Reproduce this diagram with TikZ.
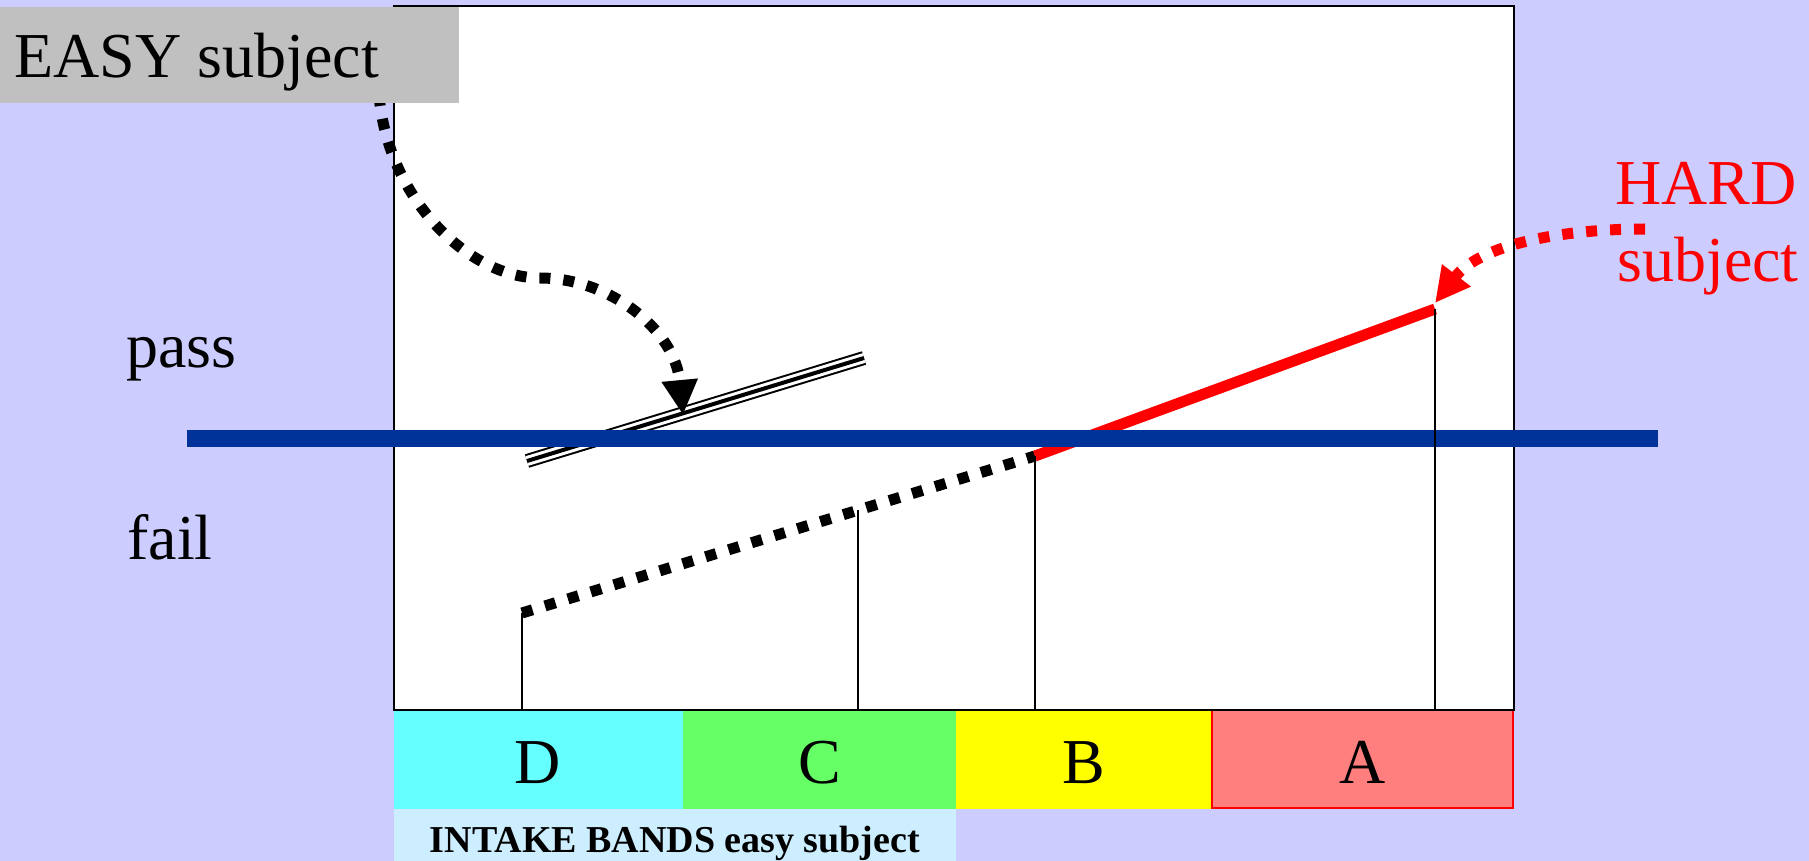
\documentclass[tikz,border=0pt]{standalone}
\usepackage{fontspec}
\setmainfont{Liberation Serif}
\usetikzlibrary{arrows.meta}

\definecolor{lavender}{HTML}{CCCCFF}
\definecolor{easygrey}{HTML}{C0C0C0}
\definecolor{passblue}{HTML}{003399}
\definecolor{bandD}{HTML}{66FFFF}
\definecolor{bandC}{HTML}{66FF66}
\definecolor{bandB}{HTML}{FFFF00}
\definecolor{bandA}{HTML}{FF7F7F}
\definecolor{intake}{HTML}{CCEEFF}

\begin{document}
\begin{tikzpicture}[x=0.5pt, y=-0.5pt,
	bigtext/.style={font=\fontsize{32}{38}\selectfont, inner sep=0pt},
	dotpath/.style={line width=5.5pt, dash pattern=on 5.5pt off 6.5pt},
	head/.style={-{Triangle[length=17.5pt, width=17pt]}},
	stem/.style={line width=1pt},
	triple/.style={line width=2pt, preaction={draw, line width=7pt},
		preaction={draw, white, line width=5pt}}]
	\fill [lavender] (0, 0) rectangle (1809, 861);
	\useasboundingbox (0, 0) rectangle (1809, 861);
	% intake bands
	\fill [bandD] (394, 710) rectangle (683, 809);
	\fill [bandC] (683, 710) rectangle (956, 809);
	\fill [bandB] (956, 710) rectangle (1212, 809);
	\draw [red, line width=1pt, fill=bandA] (1212, 710) rectangle (1513, 808);
	\fill [intake] (394, 809) rectangle (956, 861);
	\draw [line width=1pt, fill=white] (394, 6) rectangle (1514, 710);
	\node [bigtext, anchor=base] (gradeD) at (538, 783) {D};
	\node [bigtext, anchor=base] (gradeC) at (820, 783) {C};
	\node [bigtext, anchor=base] (gradeB) at (1084, 783) {B};
	\node [bigtext, anchor=base] (gradeA) at (1363, 783) {A};
	\node [font=\bfseries\fontsize{19}{23}\selectfont, inner sep=0pt, anchor=base] (intakelabel) at (675, 852) {INTAKE BANDS easy subject};
	% hard subject line
	\coordinate (floor) at (0, 710);
	\coordinate (d) at (522, 613);
	\coordinate (c) at (858, 510);
	\coordinate (b) at (1035, 456);
	\coordinate (a) at (1435, 309);
	\draw [dotpath] (d) -- (b);
	\draw [red, line width=5.5pt] (b) -- (a);
	% easy subject line
	\coordinate (t1) at (527, 461);
	\coordinate (t2) at (864, 358);
	\draw [triple] (t1) -- (t2);
	% pass mark
	\coordinate (passL) at (187, 438);
	\coordinate (passR) at (1658, 438);
	\draw [passblue, line width=8.5pt] (passL) -- (passR);
	\foreach \p in {d, c, b, a}
		\draw [stem] (\p) -- (\p |- floor);
	\node [bigtext, anchor=base west] (pass) at (126, 367) {pass};
	\node [bigtext, anchor=base west] (fail) at (127, 559) {fail};
	% arrows
	\coordinate (easyfoot) at (379, 95);
	\coordinate (easytip) at (683, 415);
	\draw [dotpath, head] (easyfoot) .. controls (388, 200) and (470, 278) .. (540, 278)
		.. controls (610, 278) and (675, 330) .. (easytip);
	\fill [easygrey] (0, 7) rectangle (459, 103);
	\node [bigtext, anchor=base west] (easy) at (14, 78) {EASY subject};
	\node [bigtext, anchor=base west, red] (hard) at (1615, 205) {HARD};
	\node [bigtext, anchor=base west, red] (hardsub) at (1617, 282) {subject};
	\coordinate (hardfoot) at (1645, 229);
	\coordinate (hardtip) at (1435, 303);
	\draw [red, dotpath, head] (hardfoot) .. controls (1560, 229) and (1480, 245) .. (hardtip);
\end{tikzpicture}
\end{document}
